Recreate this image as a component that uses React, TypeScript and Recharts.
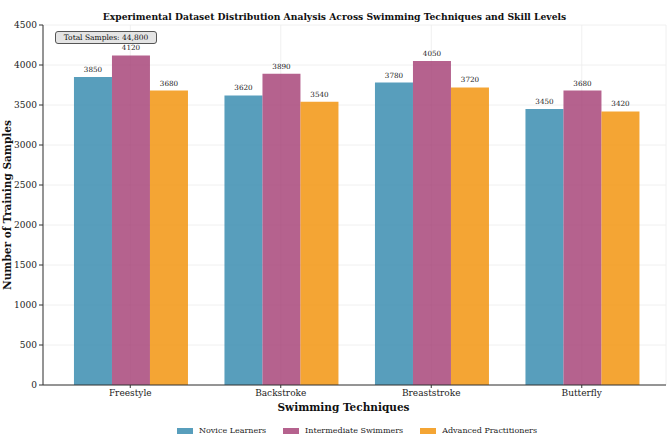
import React from 'react';
import { BarChart, Bar, XAxis, YAxis, CartesianGrid, LabelList } from 'recharts';

const techniques = ['Freestyle', 'Backstroke', 'Breaststroke', 'Butterfly'];
const noviceLearners = [3850, 3620, 3780, 3450];
const intermediateSwimmers = [4120, 3890, 4050, 3680];
const advancedPractitioners = [3680, 3540, 3720, 3420];
const yTicks = [0, 500, 1000, 1500, 2000, 2500, 3000, 3500, 4000, 4500];

const series = [
  { key: 'novice', name: 'Novice Learners', color: '#2E86AB', values: noviceLearners },
  { key: 'intermediate', name: 'Intermediate Swimmers', color: '#A23B72', values: intermediateSwimmers },
  { key: 'advanced', name: 'Advanced Practitioners', color: '#F18F01', values: advancedPractitioners },
];

const data = techniques.map((name, i) => {
  const row: Record<string, string | number> = { name };
  series.forEach((s) => {
    row[s.key] = s.values[i];
  });
  return row;
});

const total = series.reduce((acc, s) => acc + s.values.reduce((a, b) => a + b, 0), 0);

const FONT = '"DejaVu Serif", serif';
const SPINE = '#333333';

export default function App() {
  return (
    <div style={{ position: 'absolute', left: 0, top: 0, width: 669, height: 435, background: '#fff', fontFamily: FONT }}>
      <BarChart
        width={669}
        height={435}
        data={data}
        margin={{ top: 25, right: 3, bottom: 30, left: 0 }}
        barCategoryGap="12.6%"
        barGap={0}
      >
        <CartesianGrid stroke="#ececec" strokeWidth={0.8} />
        <XAxis
          dataKey="name"
          height={20}
          padding={{ left: 12, right: 9 }}
          stroke={SPINE}
          tickLine={{ stroke: SPINE }}
          tickSize={3}
          tick={{ fontSize: 9, fill: '#222', fontFamily: FONT }}
        />
        <XAxis
          xAxisId="top"
          orientation="top"
          dataKey="name"
          height={0}
          padding={{ left: 12, right: 9 }}
          stroke={SPINE}
          tick={false}
          tickLine={false}
        />
        <YAxis
          width={43}
          domain={[0, 4500]}
          ticks={yTicks}
          interval={0}
          stroke={SPINE}
          tickLine={{ stroke: SPINE }}
          tickSize={4}
          tick={{ fontSize: 9, fill: '#222', fontFamily: FONT }}
        />
        <YAxis
          yAxisId="right"
          orientation="right"
          width={0}
          domain={[0, 4500]}
          stroke={SPINE}
          tick={false}
          tickLine={false}
        />
        {series.map((s) => (
          <Bar key={s.key} dataKey={s.key} name={s.name} fill={s.color} fillOpacity={0.8} isAnimationActive={false}>
            <LabelList dataKey={s.key} position="top" offset={5} fontSize={7.2} fill="#222" fontFamily={FONT} />
          </Bar>
        ))}
      </BarChart>

      <div
        style={{
          position: 'absolute',
          left: 0,
          width: 669,
          top: 10,
          textAlign: 'center',
          fontSize: 9.2,
          fontWeight: 'bold',
          lineHeight: '14px',
          color: '#111',
        }}
      >
        Experimental Dataset Distribution Analysis Across Swimming Techniques and Skill Levels
      </div>

      <div
        style={{
          position: 'absolute',
          left: 55,
          top: 31,
          width: 100,
          height: 11,
          border: '1px solid #555',
          borderRadius: 3,
          background: '#e4e4e4',
          fontSize: 7.5,
          lineHeight: '11px',
          textAlign: 'center',
          color: '#111',
          whiteSpace: 'nowrap',
        }}
      >
        Total Samples: {total.toLocaleString('en-US')}
      </div>

      <div
        style={{
          position: 'absolute',
          left: 7 - 150,
          top: 205 - 8,
          width: 300,
          height: 16,
          lineHeight: '16px',
          textAlign: 'center',
          fontSize: 10.5,
          fontWeight: 'bold',
          color: '#111',
          transform: 'rotate(-90deg)',
          transformOrigin: '150px 8px',
          whiteSpace: 'nowrap',
        }}
      >
        Number of Training Samples
      </div>

      <div
        style={{
          position: 'absolute',
          left: 0,
          width: 669,
          top: 400,
          textAlign: 'center',
          fontSize: 10.5,
          fontWeight: 'bold',
          lineHeight: '15px',
          color: '#111',
          paddingLeft: 18,
          boxSizing: 'border-box',
        }}
      >
        Swimming Techniques
      </div>

      <div
        style={{
          position: 'absolute',
          left: 177,
          top: 425,
          display: 'flex',
          alignItems: 'center',
          fontSize: 8,
          lineHeight: '12px',
          color: '#222',
          whiteSpace: 'nowrap',
        }}
      >
        {series.map((s) => (
          <div key={s.key} style={{ display: 'flex', alignItems: 'center', marginRight: 17 }}>
            <span style={{ display: 'inline-block', width: 16, height: 6, background: s.color, opacity: 0.8, marginRight: 6 }} />
            <span>{s.name}</span>
          </div>
        ))}
      </div>
    </div>
  );
}
